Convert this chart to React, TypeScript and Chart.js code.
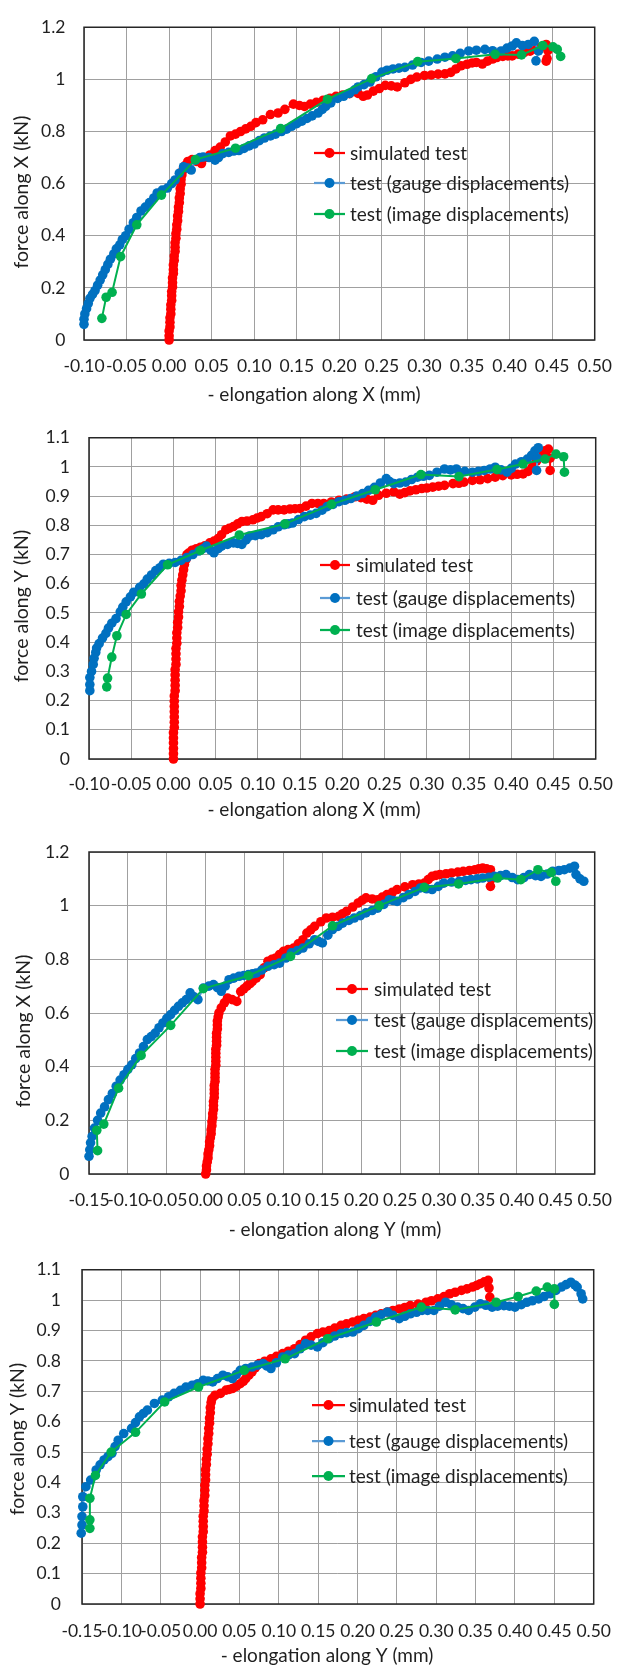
import React, { useEffect, useRef } from "react";
import { Chart, registerables } from "chart.js";
Chart.register(...registerables);

const FONT = "Lato, 'Noto Sans', sans-serif";

// ---------- labels ----------
const seriesNames = ["simulated test", "test (gauge displacements)", "test (image displacements)"];
const xTitles = ["- elongation along X (mm)", "- elongation along X (mm)", "- elongation along Y (mm)", "- elongation along Y (mm)"];
const yTitles = ["force along X (kN)", "force along Y (kN)", "force along X (kN)", "force along Y (kN)"];
const xTicksA = [-0.1, -0.05, 0, 0.05, 0.1, 0.15, 0.2, 0.25, 0.3, 0.35, 0.4, 0.45, 0.5];
const xTicksB = [-0.15, -0.1, -0.05, 0, 0.05, 0.1, 0.15, 0.2, 0.25, 0.3, 0.35, 0.4, 0.45, 0.5];
const yTicksA = [0, 0.2, 0.4, 0.6, 0.8, 1, 1.2];
const yTicksB = [0, 0.1, 0.2, 0.3, 0.4, 0.5, 0.6, 0.7, 0.8, 0.9, 1, 1.1];

type P = [number, number][];

// ---------- chart 1 : force X vs elongation X ----------
const c1Sim: P = [[0.000,0.00],[0.000,0.016],[0.000,0.035],[0.001,0.05],[0.001,0.068],[0.001,0.085],[0.002,0.10],[0.002,0.118],[0.002,0.135],[0.003,0.152],[0.003,0.17],[0.003,0.186],[0.004,0.203],[0.004,0.22],[0.004,0.238],[0.005,0.255],[0.005,0.27],[0.005,0.288],[0.006,0.305],[0.006,0.322],[0.007,0.34],[0.007,0.356],[0.007,0.373],[0.008,0.39],[0.008,0.408],[0.009,0.425],[0.009,0.442],[0.010,0.458],[0.010,0.476],[0.011,0.493],[0.011,0.51],[0.012,0.527],[0.012,0.545],[0.013,0.562],[0.013,0.58],[0.014,0.598],[0.014,0.615],[0.015,0.633],[0.016,0.65],[0.019,0.67],[0.022,0.685],
  [0.027,0.692],[0.032,0.685],[0.038,0.677],[0.043,0.70],[0.048,0.71],[0.054,0.727],[0.060,0.74],[0.066,0.76],[0.072,0.783],[0.078,0.79],[0.084,0.80],[0.090,0.81],[0.096,0.82],[0.102,0.834],[0.110,0.845],[0.119,0.865],[0.128,0.871],[0.136,0.885],[0.146,0.905],[0.153,0.90],[0.159,0.896],[0.166,0.905],[0.173,0.912],[0.181,0.92],[0.189,0.927],[0.196,0.935],[0.204,0.94],[0.212,0.945],[0.222,0.946],[0.228,0.935],[0.233,0.94],[0.240,0.955],[0.247,0.965],[0.254,0.977],[0.261,0.975],[0.268,0.971],[0.277,0.987],[0.284,1.0],[0.291,1.009],[0.300,1.015],[0.308,1.017],[0.316,1.02],[0.324,1.021],[0.331,1.027],[0.337,1.04],[0.343,1.052],[0.350,1.058],[0.356,1.063],[0.361,1.065],[0.368,1.059],[0.374,1.07],[0.380,1.078],[0.385,1.084],[0.392,1.088],[0.398,1.09],[0.403,1.09],[0.410,1.097],[0.417,1.103],[0.424,1.108],[0.431,1.115],[0.437,1.125],[0.443,1.134],[0.445,1.11],[0.444,1.08],[0.443,1.07]];
const c1Gauge: P = [[-0.100,0.06],[-0.100,0.08],[-0.099,0.10],[-0.097,0.12],[-0.095,0.14],[-0.093,0.16],[-0.090,0.175],[-0.087,0.19],[-0.084,0.21],[-0.081,0.23],[-0.078,0.25],[-0.075,0.27],[-0.072,0.29],[-0.069,0.31],[-0.065,0.33],[-0.062,0.35],[-0.058,0.365],[-0.055,0.385],[-0.051,0.40],[-0.047,0.425],[-0.042,0.45],[-0.038,0.47],[-0.033,0.495],[-0.028,0.51],[-0.023,0.527],[-0.018,0.545],[-0.014,0.564],[-0.008,0.575],[-0.002,0.583],[0.003,0.60],[0.007,0.614],[0.012,0.64],[0.017,0.665],[0.022,0.66],[0.026,0.652],[0.031,0.69],[0.036,0.70],[0.040,0.702],[0.047,0.70],[0.054,0.69],[0.058,0.70],[0.063,0.715],[0.070,0.72],[0.076,0.725],[0.082,0.727],[0.088,0.735],[0.094,0.745],[0.100,0.752],[0.106,0.765],[0.112,0.775],[0.119,0.783],[0.125,0.79],[0.132,0.80],[0.138,0.809],[0.144,0.82],[0.150,0.83],[0.156,0.84],[0.162,0.85],[0.168,0.86],[0.175,0.871],[0.180,0.885],[0.184,0.896],[0.190,0.91],[0.198,0.927],[0.205,0.935],[0.212,0.946],[0.218,0.96],[0.222,0.971],[0.229,0.98],[0.236,0.99],[0.243,1.01],[0.250,1.028],[0.256,1.035],[0.263,1.04],[0.270,1.043],[0.277,1.046],[0.286,1.055],[0.296,1.065],[0.305,1.07],[0.315,1.078],[0.324,1.085],[0.333,1.09],[0.342,1.10],[0.352,1.109],[0.361,1.112],[0.371,1.115],[0.380,1.11],[0.390,1.109],[0.397,1.12],[0.403,1.128],[0.408,1.14],[0.415,1.13],[0.422,1.134],[0.429,1.146],[0.434,1.109],[0.431,1.071]];
const c1Image: P = [[-0.079,0.083],[-0.074,0.164],[-0.067,0.183],[-0.057,0.320],[-0.038,0.442],[-0.009,0.556],[0.031,0.692],[0.078,0.736],[0.131,0.811],[0.186,0.924],[0.238,1.003],[0.292,1.068],[0.337,1.080],[0.383,1.096],[0.414,1.094],[0.439,1.130],[0.451,1.125],[0.456,1.115],[0.460,1.088]];

// ---------- chart 2 : force Y vs elongation X ----------
const c2Sim: P = [[0.000,0.00],[0.000,0.018],[0.000,0.036],[0.000,0.055],[0.000,0.072],[0.000,0.09],[0.001,0.108],[0.001,0.126],[0.001,0.144],[0.001,0.162],[0.001,0.18],[0.001,0.198],[0.001,0.216],[0.002,0.234],[0.002,0.252],[0.002,0.27],[0.002,0.288],[0.002,0.306],[0.003,0.324],[0.003,0.342],[0.003,0.36],[0.003,0.378],[0.004,0.396],[0.004,0.414],[0.004,0.432],[0.005,0.45],[0.005,0.468],[0.006,0.486],[0.006,0.504],[0.007,0.522],[0.007,0.54],[0.008,0.558],[0.009,0.576],[0.009,0.594],[0.010,0.612],[0.011,0.63],[0.012,0.648],[0.013,0.666],[0.015,0.684],[0.016,0.70],[0.018,0.705],
  [0.022,0.715],[0.027,0.72],[0.032,0.725],[0.037,0.73],[0.043,0.74],[0.048,0.746],[0.053,0.755],[0.057,0.768],[0.062,0.785],[0.066,0.79],[0.071,0.796],[0.076,0.805],[0.081,0.813],[0.087,0.815],[0.094,0.819],[0.099,0.825],[0.104,0.83],[0.111,0.84],[0.118,0.853],[0.124,0.853],[0.131,0.853],[0.138,0.856],[0.144,0.857],[0.150,0.858],[0.157,0.866],[0.164,0.875],[0.171,0.875],[0.178,0.875],[0.187,0.88],[0.196,0.886],[0.205,0.89],[0.215,0.898],[0.222,0.895],[0.229,0.89],[0.236,0.886],[0.243,0.903],[0.252,0.91],[0.261,0.915],[0.268,0.907],[0.274,0.912],[0.280,0.918],[0.287,0.922],[0.294,0.926],[0.300,0.928],[0.307,0.931],[0.314,0.934],[0.321,0.937],[0.331,0.943],[0.338,0.944],[0.344,0.948],[0.354,0.954],[0.363,0.956],[0.372,0.96],[0.381,0.965],[0.390,0.97],[0.400,0.973],[0.407,0.975],[0.414,0.976],[0.420,0.985],[0.425,1.0],[0.430,1.02],[0.435,1.044],[0.440,1.055],[0.444,1.061],[0.446,1.03],[0.446,0.988]];
const c2Gauge: P = [[-0.099,0.234],[-0.099,0.255],[-0.099,0.279],[-0.097,0.30],[-0.095,0.324],[-0.094,0.345],[-0.092,0.365],[-0.091,0.38],[-0.088,0.395],[-0.084,0.414],[-0.080,0.43],[-0.077,0.448],[-0.073,0.465],[-0.068,0.481],[-0.063,0.504],[-0.060,0.52],[-0.056,0.538],[-0.051,0.555],[-0.047,0.571],[-0.040,0.588],[-0.035,0.60],[-0.031,0.616],[-0.026,0.63],[-0.021,0.645],[-0.016,0.655],[-0.012,0.667],[-0.005,0.67],[0.002,0.673],[0.009,0.68],[0.016,0.69],[0.023,0.70],[0.030,0.712],[0.035,0.72],[0.039,0.729],[0.044,0.715],[0.048,0.706],[0.053,0.72],[0.057,0.729],[0.064,0.735],[0.071,0.74],[0.076,0.738],[0.081,0.735],[0.086,0.75],[0.090,0.763],[0.097,0.765],[0.104,0.768],[0.111,0.775],[0.118,0.785],[0.124,0.795],[0.131,0.802],[0.136,0.805],[0.141,0.808],[0.148,0.82],[0.155,0.83],[0.162,0.835],[0.169,0.841],[0.176,0.852],[0.182,0.864],[0.189,0.872],[0.196,0.881],[0.203,0.886],[0.210,0.892],[0.217,0.90],[0.224,0.909],[0.231,0.92],[0.238,0.93],[0.245,0.945],[0.252,0.96],[0.256,0.95],[0.261,0.943],[0.268,0.945],[0.275,0.948],[0.282,0.957],[0.289,0.965],[0.296,0.968],[0.303,0.971],[0.312,0.982],[0.321,0.993],[0.328,0.99],[0.335,0.993],[0.345,0.985],[0.354,0.982],[0.361,0.985],[0.368,0.988],[0.375,0.993],[0.381,0.999],[0.388,0.99],[0.395,0.982],[0.400,0.995],[0.405,1.01],[0.412,1.018],[0.419,1.027],[0.424,1.04],[0.428,1.055],[0.432,1.066],[0.431,1.03],[0.430,0.988]];
const c2Image: P = [[-0.079,0.247],[-0.078,0.277],[-0.073,0.349],[-0.067,0.422],[-0.056,0.495],[-0.038,0.565],[-0.007,0.665],[0.032,0.714],[0.078,0.767],[0.132,0.805],[0.187,0.872],[0.239,0.922],[0.293,0.974],[0.338,0.967],[0.383,0.991],[0.414,1.010],[0.440,1.027],[0.453,1.044],[0.462,1.035],[0.463,0.982]];

// ---------- chart 3 : force X vs elongation Y ----------
const c3Sim: P = [[0.000,0.00],[0.001,0.015],[0.001,0.03],[0.002,0.045],[0.003,0.06],[0.003,0.075],[0.004,0.09],[0.005,0.105],[0.005,0.12],[0.006,0.135],[0.007,0.15],[0.007,0.165],[0.008,0.18],[0.008,0.195],[0.009,0.21],[0.009,0.225],[0.010,0.24],[0.010,0.255],[0.010,0.27],[0.011,0.285],[0.011,0.30],[0.011,0.315],[0.011,0.33],[0.012,0.345],[0.012,0.36],[0.012,0.375],[0.012,0.39],[0.013,0.405],[0.013,0.42],[0.013,0.435],[0.013,0.45],[0.013,0.465],[0.014,0.48],[0.014,0.495],[0.014,0.51],[0.014,0.525],[0.015,0.54],[0.015,0.555],[0.015,0.57],[0.016,0.585],[0.017,0.60],[0.020,0.619],
  [0.024,0.638],[0.028,0.656],[0.034,0.65],[0.040,0.643],[0.045,0.68],[0.049,0.69],[0.053,0.70],[0.057,0.71],[0.060,0.718],[0.065,0.73],[0.070,0.743],[0.075,0.768],[0.080,0.793],[0.085,0.80],[0.090,0.805],[0.095,0.818],[0.100,0.83],[0.106,0.836],[0.113,0.842],[0.119,0.858],[0.125,0.873],[0.130,0.898],[0.135,0.91],[0.140,0.923],[0.148,0.94],[0.155,0.954],[0.163,0.957],[0.171,0.96],[0.176,0.97],[0.181,0.979],[0.189,0.995],[0.196,1.01],[0.201,1.02],[0.206,1.029],[0.214,1.025],[0.221,1.022],[0.227,1.032],[0.233,1.041],[0.240,1.05],[0.246,1.06],[0.256,1.07],[0.266,1.078],[0.274,1.081],[0.281,1.084],[0.286,1.097],[0.291,1.109],[0.296,1.113],[0.301,1.116],[0.309,1.119],[0.316,1.122],[0.324,1.125],[0.331,1.128],[0.339,1.131],[0.346,1.134],[0.351,1.137],[0.356,1.14],[0.361,1.137],[0.366,1.134],[0.367,1.10],[0.366,1.072]];
const c3Gauge: P = [[-0.150,0.066],[-0.149,0.09],[-0.148,0.116],[-0.146,0.14],[-0.143,0.171],[-0.139,0.20],[-0.135,0.227],[-0.130,0.25],[-0.125,0.277],[-0.120,0.30],[-0.115,0.327],[-0.110,0.35],[-0.105,0.37],[-0.100,0.39],[-0.095,0.407],[-0.090,0.43],[-0.085,0.451],[-0.080,0.475],[-0.075,0.501],[-0.070,0.512],[-0.065,0.525],[-0.060,0.545],[-0.055,0.563],[-0.050,0.58],[-0.045,0.594],[-0.040,0.61],[-0.035,0.625],[-0.030,0.638],[-0.025,0.65],[-0.020,0.675],[-0.015,0.66],[-0.010,0.65],[-0.003,0.693],[0.004,0.70],[0.010,0.706],[0.015,0.695],[0.020,0.681],[0.025,0.70],[0.030,0.724],[0.036,0.73],[0.043,0.737],[0.049,0.74],[0.055,0.743],[0.060,0.746],[0.065,0.749],[0.072,0.76],[0.080,0.774],[0.088,0.78],[0.095,0.786],[0.103,0.805],[0.110,0.824],[0.118,0.833],[0.125,0.842],[0.133,0.858],[0.140,0.873],[0.145,0.867],[0.150,0.861],[0.157,0.89],[0.163,0.911],[0.170,0.923],[0.176,0.935],[0.184,0.945],[0.191,0.954],[0.199,0.963],[0.206,0.973],[0.214,0.982],[0.221,0.991],[0.229,1.005],[0.236,1.022],[0.241,1.019],[0.246,1.016],[0.254,1.03],[0.261,1.041],[0.269,1.053],[0.276,1.066],[0.284,1.063],[0.291,1.06],[0.299,1.072],[0.306,1.084],[0.316,1.088],[0.326,1.091],[0.334,1.094],[0.341,1.097],[0.349,1.10],[0.356,1.103],[0.364,1.106],[0.371,1.109],[0.379,1.112],[0.386,1.116],[0.394,1.105],[0.401,1.097],[0.409,1.105],[0.416,1.116],[0.424,1.112],[0.431,1.109],[0.439,1.118],[0.446,1.128],[0.454,1.131],[0.461,1.134],[0.468,1.14],[0.474,1.147],[0.476,1.116],[0.481,1.10],[0.486,1.091]];
const c3Image: P = [[-0.139,0.087],[-0.140,0.163],[-0.131,0.186],[-0.112,0.320],[-0.083,0.442],[-0.045,0.554],[-0.003,0.691],[0.055,0.739],[0.109,0.811],[0.163,0.925],[0.223,1.000],[0.281,1.068],[0.325,1.081],[0.375,1.103],[0.405,1.097],[0.427,1.134],[0.444,1.124],[0.450,1.091]];

// ---------- chart 4 : force Y vs elongation Y ----------
const c4Sim: P = [[0.000,0.00],[0.000,0.017],[0.000,0.034],[0.001,0.051],[0.001,0.068],[0.001,0.085],[0.001,0.102],[0.002,0.119],[0.002,0.136],[0.002,0.153],[0.003,0.17],[0.003,0.187],[0.003,0.204],[0.003,0.221],[0.004,0.238],[0.004,0.255],[0.004,0.272],[0.004,0.289],[0.005,0.306],[0.005,0.323],[0.005,0.34],[0.006,0.357],[0.006,0.374],[0.006,0.391],[0.007,0.408],[0.007,0.425],[0.007,0.442],[0.008,0.459],[0.008,0.476],[0.009,0.493],[0.009,0.51],[0.010,0.527],[0.010,0.544],[0.011,0.561],[0.011,0.578],[0.012,0.595],[0.012,0.612],[0.013,0.629],[0.013,0.646],[0.014,0.663],[0.015,0.675],[0.019,0.687],
  [0.026,0.693],[0.033,0.704],[0.037,0.706],[0.041,0.709],[0.046,0.716],[0.051,0.725],[0.055,0.733],[0.058,0.742],[0.062,0.753],[0.066,0.764],[0.070,0.777],[0.075,0.791],[0.082,0.799],[0.090,0.807],[0.097,0.815],[0.105,0.824],[0.112,0.832],[0.120,0.84],[0.127,0.854],[0.134,0.868],[0.141,0.879],[0.149,0.89],[0.156,0.895],[0.164,0.90],[0.171,0.908],[0.179,0.917],[0.186,0.922],[0.194,0.928],[0.201,0.934],[0.208,0.939],[0.216,0.944],[0.223,0.95],[0.230,0.955],[0.238,0.961],[0.245,0.966],[0.253,0.971],[0.260,0.976],[0.267,0.982],[0.277,0.987],[0.287,0.993],[0.294,0.998],[0.302,1.004],[0.310,1.012],[0.317,1.021],[0.324,1.026],[0.332,1.032],[0.339,1.037],[0.346,1.043],[0.351,1.048],[0.356,1.054],[0.361,1.06],[0.366,1.065],[0.367,1.04],[0.368,1.01]];
const c4Gauge: P = [[-0.151,0.233],[-0.150,0.26],[-0.150,0.288],[-0.149,0.32],[-0.149,0.353],[-0.145,0.386],[-0.139,0.408],[-0.132,0.441],[-0.127,0.458],[-0.122,0.474],[-0.117,0.485],[-0.112,0.496],[-0.108,0.518],[-0.104,0.539],[-0.097,0.561],[-0.087,0.578],[-0.082,0.597],[-0.077,0.616],[-0.072,0.627],[-0.067,0.638],[-0.058,0.66],[-0.048,0.671],[-0.040,0.682],[-0.033,0.693],[-0.025,0.703],[-0.018,0.714],[-0.010,0.72],[-0.003,0.725],[0.004,0.736],[0.010,0.734],[0.016,0.731],[0.022,0.742],[0.029,0.753],[0.035,0.748],[0.041,0.742],[0.046,0.755],[0.051,0.769],[0.058,0.775],[0.066,0.78],[0.073,0.786],[0.080,0.791],[0.085,0.783],[0.090,0.775],[0.097,0.794],[0.105,0.813],[0.112,0.819],[0.120,0.824],[0.127,0.84],[0.134,0.857],[0.141,0.852],[0.149,0.846],[0.156,0.86],[0.164,0.873],[0.171,0.882],[0.179,0.89],[0.186,0.893],[0.194,0.895],[0.201,0.906],[0.208,0.917],[0.216,0.93],[0.223,0.944],[0.230,0.952],[0.238,0.961],[0.245,0.95],[0.253,0.939],[0.260,0.947],[0.267,0.955],[0.275,0.96],[0.282,0.966],[0.289,0.966],[0.297,0.966],[0.304,0.98],[0.312,0.993],[0.319,0.985],[0.327,0.977],[0.334,0.972],[0.341,0.966],[0.349,0.977],[0.356,0.988],[0.363,0.983],[0.371,0.977],[0.378,0.98],[0.386,0.982],[0.393,0.98],[0.400,0.977],[0.408,0.985],[0.415,0.993],[0.422,0.998],[0.430,1.004],[0.437,1.012],[0.445,1.021],[0.452,1.032],[0.459,1.043],[0.465,1.051],[0.471,1.059],[0.476,1.05],[0.479,1.043],[0.484,1.021],[0.486,1.004]];
const c4Image: P = [[-0.140,0.249],[-0.140,0.277],[-0.140,0.348],[-0.133,0.423],[-0.113,0.500],[-0.082,0.565],[-0.045,0.665],[-0.002,0.714],[0.056,0.769],[0.108,0.807],[0.162,0.873],[0.224,0.928],[0.281,0.977],[0.324,0.968],[0.376,0.993],[0.404,1.012],[0.427,1.030],[0.441,1.043],[0.450,1.037],[0.450,0.986]];

// ---------- styles ----------
const lineColors = ["#FF0000", "#5B9BD5", "#00B050"];
const markerColors = ["#FF0000", "#0070C0", "#00B050"];
const TEXT = "#1f1f1f";

type Panel = {
  top: number; h: number;
  L: number; T: number; R: number; B: number;
  xMin: number; xMax: number; yMax: number;
  xTicks: number[]; yTicks: number[];
  xTickPad: number; yTickPad: number;
  xTitle: [number, number]; yTitle: [number, number];
  legX1: number; legX2: number; legTextX: number; legRows: number[];
  series: P[];
  xt: string; yt: string;
};

const panels: Panel[] = [
  { top: 0, h: 410, L: 84, T: 21, R: 601, B: 340, xMin: -0.1, xMax: 0.5, yMax: 1.2, xTicks: xTicksA, yTicks: yTicksA,
    xTickPad: 18, yTickPad: 18.5, xTitle: [314, 395], yTitle: [22, 192], legX1: 314, legX2: 345, legTextX: 350, legRows: [153, 183, 214],
    series: [c1Sim, c1Gauge, c1Image], xt: xTitles[0], yt: yTitles[0] },
  { top: 410, h: 410, L: 89, T: 434, R: 610, B: 759, xMin: -0.1, xMax: 0.5, yMax: 1.1, xTicks: xTicksA, yTicks: yTicksB,
    xTickPad: 17, yTickPad: 19, xTitle: [314, 810], yTitle: [22, 606], legX1: 320, legX2: 350, legTextX: 356, legRows: [565, 598, 630],
    series: [c2Sim, c2Gauge, c2Image], xt: xTitles[1], yt: yTitles[1] },
  { top: 820, h: 420, L: 89, T: 852, R: 609, B: 1174, xMin: -0.15, xMax: 0.5, yMax: 1.2, xTicks: xTicksB, yTicks: yTicksA,
    xTickPad: 18, yTickPad: 19.5, xTitle: [335, 1230], yTitle: [24, 1031], legX1: 336, legX2: 368, legTextX: 374, legRows: [989, 1020, 1051],
    series: [c3Sim, c3Gauge, c3Image], xt: xTitles[2], yt: yTitles[2] },
  { top: 1240, h: 425, L: 82, T: 1269, R: 611, B: 1604, xMin: -0.15, xMax: 0.5, yMax: 1.1, xTicks: xTicksB, yTicks: yTicksB,
    xTickPad: 19, yTickPad: 21, xTitle: [327, 1656], yTitle: [18, 1439], legX1: 312, legX2: 345, legTextX: 349, legRows: [1405, 1441, 1476],
    series: [c4Sim, c4Gauge, c4Image], xt: xTitles[3], yt: yTitles[3] },
];

function buildConfig(p: Panel): any {
  const decor = {
    id: "decor",
    beforeDatasetsDraw(chart: any) {
      const { ctx, chartArea: a } = chart;
      ctx.save();
      ctx.strokeStyle = "#262626";
      ctx.lineWidth = 1.5;
      ctx.strokeRect(a.left, a.top, a.right - a.left, a.bottom - a.top);
      ctx.restore();
    },
    afterDraw(chart: any) {
      const ctx = chart.ctx;
      ctx.save();
      ctx.fillStyle = TEXT;
      ctx.textAlign = "center";
      ctx.textBaseline = "middle";
      ctx.font = `19px ${FONT}`;
      ctx.fillText(p.xt, p.xTitle[0], p.xTitle[1] - p.top);
      ctx.save();
      ctx.translate(p.yTitle[0], p.yTitle[1] - p.top);
      ctx.rotate(-Math.PI / 2);
      ctx.font = `19.5px ${FONT}`;
      ctx.fillText(p.yt, 0, 0);
      ctx.restore();
      // legend
      ctx.font = `19px ${FONT}`;
      ctx.textAlign = "left";
      seriesNames.forEach((name, i) => {
        const y = p.legRows[i] - p.top;
        ctx.strokeStyle = lineColors[i];
        ctx.lineWidth = 2.25;
        ctx.beginPath();
        ctx.moveTo(p.legX1, y);
        ctx.lineTo(p.legX2, y);
        ctx.stroke();
        ctx.fillStyle = markerColors[i];
        ctx.beginPath();
        ctx.arc((p.legX1 + p.legX2) / 2, y, 5, 0, Math.PI * 2);
        ctx.fill();
        ctx.fillStyle = TEXT;
        ctx.fillText(name, p.legTextX, y + 1);
      });
      ctx.restore();
    },
  };

  const datasets = p.series.map((s, i) => ({
    label: seriesNames[i],
    data: s.map(([x, y]) => ({ x, y })),
    showLine: true,
    borderColor: lineColors[i],
    backgroundColor: markerColors[i],
    pointBackgroundColor: markerColors[i],
    pointBorderColor: markerColors[i],
    pointRadius: 4.8,
    pointBorderWidth: 0,
    borderWidth: 2,
    tension: 0,
    clip: false,
    order: 3 - i,
  }));

  return {
    type: "scatter",
    data: { datasets },
    plugins: [decor],
    options: {
      responsive: false,
      animation: false,
      devicePixelRatio: 1,
      layout: { padding: { left: 0, top: p.T - p.top, right: 630 - p.R, bottom: 0 } },
      plugins: { legend: { display: false }, tooltip: { enabled: false }, title: { display: false } },
      scales: {
        x: {
          type: "linear",
          min: p.xMin,
          max: p.xMax,
          afterBuildTicks: (s: any) => { s.ticks = p.xTicks.map((v) => ({ value: v })); },
          afterFit: (s: any) => { s.height = p.top + p.h - p.B; },
          ticks: {
            autoSkip: false, maxRotation: 0, minRotation: 0, padding: p.xTickPad, color: TEXT,
            font: { family: FONT, size: 17.5, lineHeight: 1 },
            callback: (v: any) => Number(v).toFixed(2),
          },
          grid: { color: "#a0a0a0", lineWidth: 1, drawTicks: false },
          border: { display: false },
        },
        y: {
          type: "linear",
          min: 0,
          max: p.yMax,
          afterBuildTicks: (s: any) => { s.ticks = p.yTicks.map((v) => ({ value: v })); },
          afterFit: (s: any) => { s.width = p.L; },
          ticks: {
            autoSkip: false, padding: p.yTickPad, color: TEXT,
            font: { family: FONT, size: 17.5, lineHeight: 1 },
            callback: (v: any) => String(Number(Number(v).toFixed(1))),
          },
          grid: { color: "#a0a0a0", lineWidth: 1, drawTicks: false },
          border: { display: false },
        },
      },
    },
  };
}

function ChartPanel({ p }: { p: Panel }) {
  const ref = useRef<HTMLCanvasElement>(null);
  useEffect(() => {
    const chart = new Chart(ref.current as HTMLCanvasElement, buildConfig(p));
    return () => chart.destroy();
  }, [p]);
  return (
    <canvas
      ref={ref}
      width={630}
      height={p.h}
      style={{ position: "absolute", left: 0, top: p.top, width: 630, height: p.h }}
    />
  );
}

export default function App() {
  return (
    <div style={{ position: "absolute", left: 0, top: 0, width: 630, height: 1665, background: "#ffffff", overflow: "hidden" }}>
      {panels.map((p, i) => (
        <ChartPanel key={i} p={p} />
      ))}
    </div>
  );
}
